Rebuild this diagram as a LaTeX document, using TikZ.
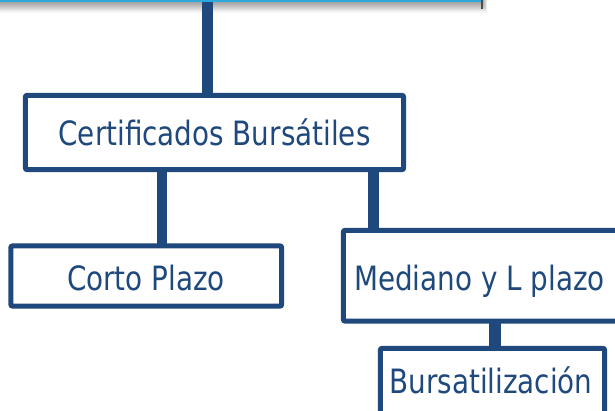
\documentclass[tikz,border=0pt]{standalone}
\usepackage{fontspec}
\setmainfont{DejaVu Sans}[FakeStretch=0.83]
\definecolor{navy}{HTML}{1F497D}
\definecolor{cyanfill}{HTML}{2EA8DC}
\begin{document}
\begin{tikzpicture}[x=1pt,y=-1pt,
  box/.style={draw=navy, line width=5pt, fill=white, rounded corners=2pt, inner sep=0pt},
  conn/.style={draw=navy, line width=11pt},
  lbl/.style={anchor=base, text=navy, font=\fontsize{33.5}{38}\selectfont, inner sep=0pt}]
\useasboundingbox (0,0) rectangle (615,410);
\clip (0,0) rectangle (615,410);
% shadow of the top box
\foreach \i in {1,...,10}{
  \fill[black, opacity=0.045] (-20,0) rectangle ({482+0.5*\i},{1.5+1.1*\i});
}
\node[fill=cyanfill, inner sep=0pt, minimum width=502pt, minimum height=61.5pt] (top) at (231,-29.25) {};
\draw[black!70, line width=2.5pt] (top.north east) -- ([yshift=-7pt]top.south east);
% named coordinates for connector columns
\coordinate (c0) at (207.5,0);
\coordinate (c1) at (162,0);
\coordinate (c2) at (373,0);
\coordinate (c3) at (494.5,0);
% box outlines as named nodes
\path
  (214.5,132.5) node[minimum width=378pt, minimum height=74pt, inner sep=0pt] (cert) {}
  (146.25,276) node[minimum width=270.5pt, minimum height=60pt, inner sep=0pt] (corto) {}
  (496.75,275.75) node[minimum width=306.5pt, minimum height=90.5pt, inner sep=0pt] (mediano) {}
  (492.5,394.25) node[minimum width=224pt, minimum height=91.5pt, inner sep=0pt] (burs) {};
% connectors
\draw[conn] (top.south -| c0) -- (cert.north -| c0);
\draw[conn, line width=10pt] (cert.south -| c1) -- (corto.north -| c1);
\draw[conn] (cert.south -| c2) -- (mediano.north -| c2);
\draw[conn, line width=12pt] (mediano.south -| c3) -- (burs.north -| c3);
% box frames
\draw[box] (cert.north west) rectangle (cert.south east);
\draw[box] (corto.north west) rectangle (corto.south east);
\draw[box] (mediano.north west) rectangle (mediano.south east);
\draw[box] (burs.north west) rectangle (burs.south east);
% labels
\node[lbl] (tcert) at (214.5,145) {Certificados Bursátiles};
\node[lbl] (tcorto) at (146,290) {Corto Plazo};
\node[lbl] (tmed) at (479.5,290) {Mediano y L plazo};
\node[lbl] (tburs) at (491,393) {Bursatilización};
\end{tikzpicture}
\end{document}
